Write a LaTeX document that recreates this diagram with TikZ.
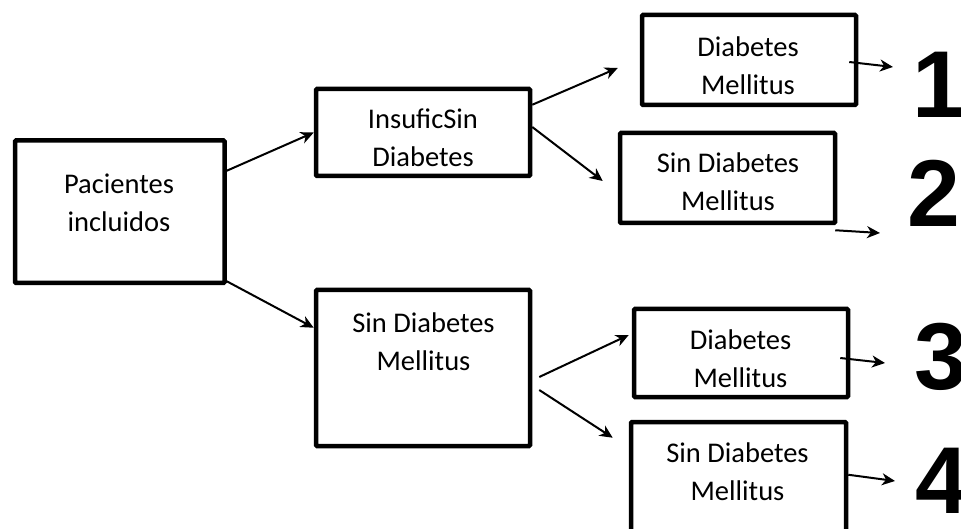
\documentclass[tikz,border=0pt]{standalone}
\usepackage{fontspec}
\setmainfont{Carlito}
\newfontfamily\digitfont{Liberation Sans}
\usetikzlibrary{arrows.meta,calc}
\begin{document}
\begin{tikzpicture}[x=1pt,y=-1pt,
  box/.style={draw=black,line width=4.5pt,rounded corners=1pt,rectangle,inner sep=0pt},
  lbl/.style={align=center,inner sep=0pt,font=\fontsize{28.5}{38}\selectfont},
  num/.style={anchor=base west,inner sep=0pt,font=\digitfont\bfseries\fontsize{95}{95}\selectfont},
  conn/.style={line width=2pt,-{Stealth[length=13pt,width=12pt,inset=4pt]}}]
\useasboundingbox (0,0) rectangle (961,529);
\clip (0,0) rectangle (961,529);
% boxes
\node[box,minimum width=209.5pt,minimum height=142.5pt] (A) at (119.75,211.75) {};
\node[box,minimum width=214pt,minimum height=87pt] (B) at (423,132.5) {};
\node[box,minimum width=214pt,minimum height=156pt] (C) at (423,368) {};
\node[box,minimum width=214pt,minimum height=90pt] (D1) at (749,60) {};
\node[box,minimum width=215pt,minimum height=90pt] (D2) at (727.5,178) {};
\node[box,minimum width=214pt,minimum height=88pt] (D3) at (741,353) {};
\node[box,minimum width=215pt,minimum height=130pt] (D4) at (738.5,487) {};
% labels
\node[lbl] (tA) at (119,202.5) {Pacientes\\incluidos};
\node[lbl] (tB) at (423,137.5) {InsuficSin\\Diabetes};
\node[lbl] (tC) at (423.5,341.5) {Sin Diabetes\\Mellitus};
\node[lbl] (tD1) at (748,66) {Diabetes\\Mellitus};
\node[lbl] (tD2) at (728,181.5) {Sin Diabetes\\Mellitus};
\node[lbl] (tD3) at (740.5,359) {Diabetes\\Mellitus};
\node[lbl] (tD4) at (737.5,471.5) {Sin Diabetes\\Mellitus};
% numbers
\node[num] (n1) at (912,118) {1};
\node[num] (n2) at (907,227) {2};
\node[num] (n3) at (914,389) {3};
\node[num] (n4) at (915,513) {4};
% free ends
\coordinate (e1) at (893,67);
\coordinate (e2) at (880,233);
\coordinate (e3) at (885,363);
\coordinate (e4) at (895,481);
% connectors
\draw[conn] ([yshift=-32.5pt]A.north east) -- (B.west);
\draw[conn] ([yshift=4pt]A.south east) -- ([yshift=-40pt]C.north west);
\draw[conn] ([yshift=-18pt]B.north east) -- ([xshift=-22pt,yshift=-8pt]D1.west);
\draw[conn] ([yshift=5.5pt]B.east) -- ([xshift=-15pt,yshift=-3pt]D2.west);
\draw[conn] ([xshift=-9pt,yshift=-2pt]D1.east) -- (e1);
\draw[conn] ([xshift=-2pt,yshift=-5pt]D2.south east) -- (e2);
\draw[conn] ([xshift=7pt,yshift=-9pt]C.east) -- ([xshift=-3pt,yshift=18pt]D3.west);
\draw[conn] ([xshift=7pt,yshift=-22pt]C.east) -- ([xshift=-16pt,yshift=-18pt]D4.north west);
\draw[conn] ([xshift=-10pt,yshift=-5pt]D3.east) -- (e3);
\draw[conn] ([yshift=-55pt]D4.north east) -- (e4);
\end{tikzpicture}
\end{document}
